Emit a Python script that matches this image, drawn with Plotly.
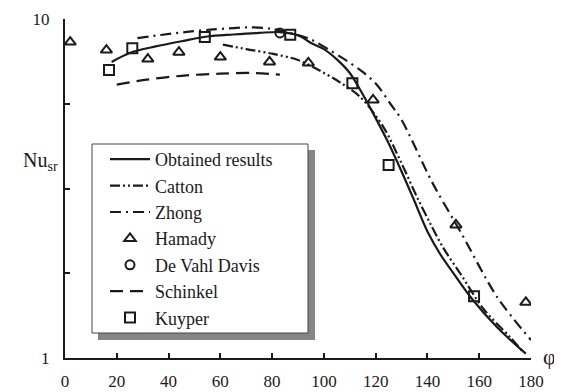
import plotly.graph_objects as go

# ---- data ----
phi_obtained = [18, 25, 35, 45, 55, 65, 75, 83, 90, 95, 100, 105, 110, 115, 120, 125, 130, 135, 140, 145, 150, 157, 167, 178]
nu_obtained = [7.47, 7.94, 8.3, 8.6, 8.88, 9.0, 9.1, 9.15, 8.95, 8.5, 8.15, 7.6, 6.93, 6.0, 5.1, 4.3, 3.55, 2.9, 2.36, 2.02, 1.78, 1.5, 1.23, 1.03]

phi_catton = [61, 70, 80, 90, 98, 106, 114, 123, 130, 136, 141, 146, 153, 161.5, 172, 177]
nu_catton = [8.4, 8.15, 7.9, 7.57, 7.07, 6.52, 5.89, 4.8, 3.75, 2.98, 2.5, 2.12, 1.76, 1.40, 1.15, 1.04]

phi_zhong = [28, 37, 47, 56, 65, 72, 80, 88, 95, 101, 108, 115, 120.5, 125.5, 130, 142, 153, 167, 180]
nu_zhong = [8.78, 8.97, 9.16, 9.3, 9.4, 9.45, 9.35, 9.05, 8.7, 8.2, 7.6, 6.98, 6.39, 5.65, 5.04, 3.28, 2.34, 1.51, 1.13]

phi_hamady = [2, 16, 32, 44, 60, 79, 94, 119, 151, 178]
nu_hamady = [8.55, 8.1, 7.62, 7.98, 7.72, 7.47, 7.42, 5.77, 2.47, 1.46]

phi_devahl = [83]
nu_devahl = [9.1]

phi_schinkel = [20, 30, 45, 60, 72, 83]
nu_schinkel = [6.4, 6.6, 6.8, 6.9, 6.93, 6.85]

phi_kuyper = [17, 26, 54, 87, 111, 125, 158]
nu_kuyper = [7.07, 8.2, 8.85, 8.98, 6.46, 3.71, 1.52]

x_ticks = [0, 20, 40, 60, 80, 100, 120, 140, 160, 180]
y_ticks = [1, 10]
y_ticktext = ["1", "10"]
y_minor_ticks = [10 ** 0.25, 10 ** 0.5, 10 ** 0.75]

FONT = "Liberation Serif"
BLACK = "#1a1a1a"
SM = 0.9

fig = go.Figure()
fig.add_trace(go.Scatter(x=phi_obtained, y=nu_obtained, mode="lines", name="Obtained results",
                         line=dict(color=BLACK, width=2.2, shape="spline", smoothing=SM)))
fig.add_trace(go.Scatter(x=phi_catton, y=nu_catton, mode="lines", name="Catton",
                         line=dict(color=BLACK, width=2.2, shape="spline", smoothing=SM,
                                   dash="10px,3px,2px,3px,2px,3px")))
fig.add_trace(go.Scatter(x=phi_zhong, y=nu_zhong, mode="lines", name="Zhong",
                         line=dict(color=BLACK, width=2.2, shape="spline", smoothing=SM,
                                   dash="11px,5px,2px,5px")))
fig.add_trace(go.Scatter(x=phi_hamady, y=nu_hamady, mode="markers", name="Hamady",
                         marker=dict(symbol="triangle-up-open", size=10, color=BLACK, line=dict(width=2, color=BLACK))))
fig.add_trace(go.Scatter(x=phi_devahl, y=nu_devahl, mode="markers", name="De Vahl Davis",
                         marker=dict(symbol="circle-open", size=9, color=BLACK, line=dict(width=2, color=BLACK))))
fig.add_trace(go.Scatter(x=phi_schinkel, y=nu_schinkel, mode="lines", name="Schinkel",
                         line=dict(color=BLACK, width=2.2, shape="spline", smoothing=SM, dash="13px,7px")))
fig.add_trace(go.Scatter(x=phi_kuyper, y=nu_kuyper, mode="markers", name="Kuyper",
                         marker=dict(symbol="square-open", size=10, color=BLACK, line=dict(width=2, color=BLACK))))

# the page body adds an 8px offset; figure coordinates = window coordinates - 8
OFF = 8
W, H = 562 - OFF, 392 - OFF
L, R, T, B = 65 - OFF, 31, 19 - OFF, 34
pw, ph = W - L - R, H - T - B


def px(xw):
    return (xw - OFF - L) / pw


def py(yw):
    return (H - B - (yw - OFF)) / ph


shapes = [
    dict(type="rect", xref="paper", yref="paper", x0=px(98), x1=px(315), y0=py(340), y1=py(150),
         fillcolor="#858585", line=dict(width=0), layer="above"),
    dict(type="rect", xref="paper", yref="paper", x0=px(92), x1=px(308), y0=py(333), y1=py(144),
         fillcolor="white", line=dict(width=1, color="#444444"), layer="above"),
]

fig.update_layout(
    width=W, height=H,
    margin=dict(l=L, r=R, t=T, b=B, autoexpand=False),
    paper_bgcolor="white", plot_bgcolor="white",
    font=dict(family=FONT, color=BLACK, size=17),
    showlegend=True,
    legend=dict(x=px(105), y=py(141), xanchor="left", yanchor="top",
                bgcolor="rgba(0,0,0,0)", borderwidth=0, itemwidth=40,
                font=dict(family=FONT, size=18, color=BLACK), tracegroupgap=0),
    shapes=shapes,
    annotations=[
        dict(text="Nu<sub>sr</sub>", x=px(21), y=py(162), xref="paper", yref="paper",
             xanchor="left", yanchor="middle", showarrow=False, font=dict(family=FONT, size=20, color=BLACK)),
        dict(text="φ", x=px(549), y=py(356), xref="paper", yref="paper",
             xanchor="center", yanchor="middle", showarrow=False, font=dict(family=FONT, size=22, color=BLACK)),
    ],
)

fig.update_xaxes(range=[0, 180], tickvals=x_ticks, showgrid=False, zeroline=False, automargin=False,
                 showline=True, linecolor=BLACK, linewidth=2,
                 ticks="inside", ticklen=5, tickwidth=1.5, tickcolor=BLACK,
                 ticklabelstandoff=7, tickfont=dict(family=FONT, size=17, color=BLACK))
fig.update_yaxes(type="log", range=[0, 1], tickvals=y_ticks, ticktext=y_ticktext, automargin=False,
                 showgrid=False, zeroline=False, showline=True, linecolor=BLACK, linewidth=2,
                 ticks="inside", ticklen=5, tickwidth=1.5, tickcolor=BLACK,
                 minor=dict(tickvals=y_minor_ticks, ticks="inside", ticklen=5, tickwidth=1.5,
                            tickcolor=BLACK, showgrid=False),
                 ticklabelstandoff=10, tickfont=dict(family=FONT, size=17, color=BLACK))

fig.write_html("out.html")
